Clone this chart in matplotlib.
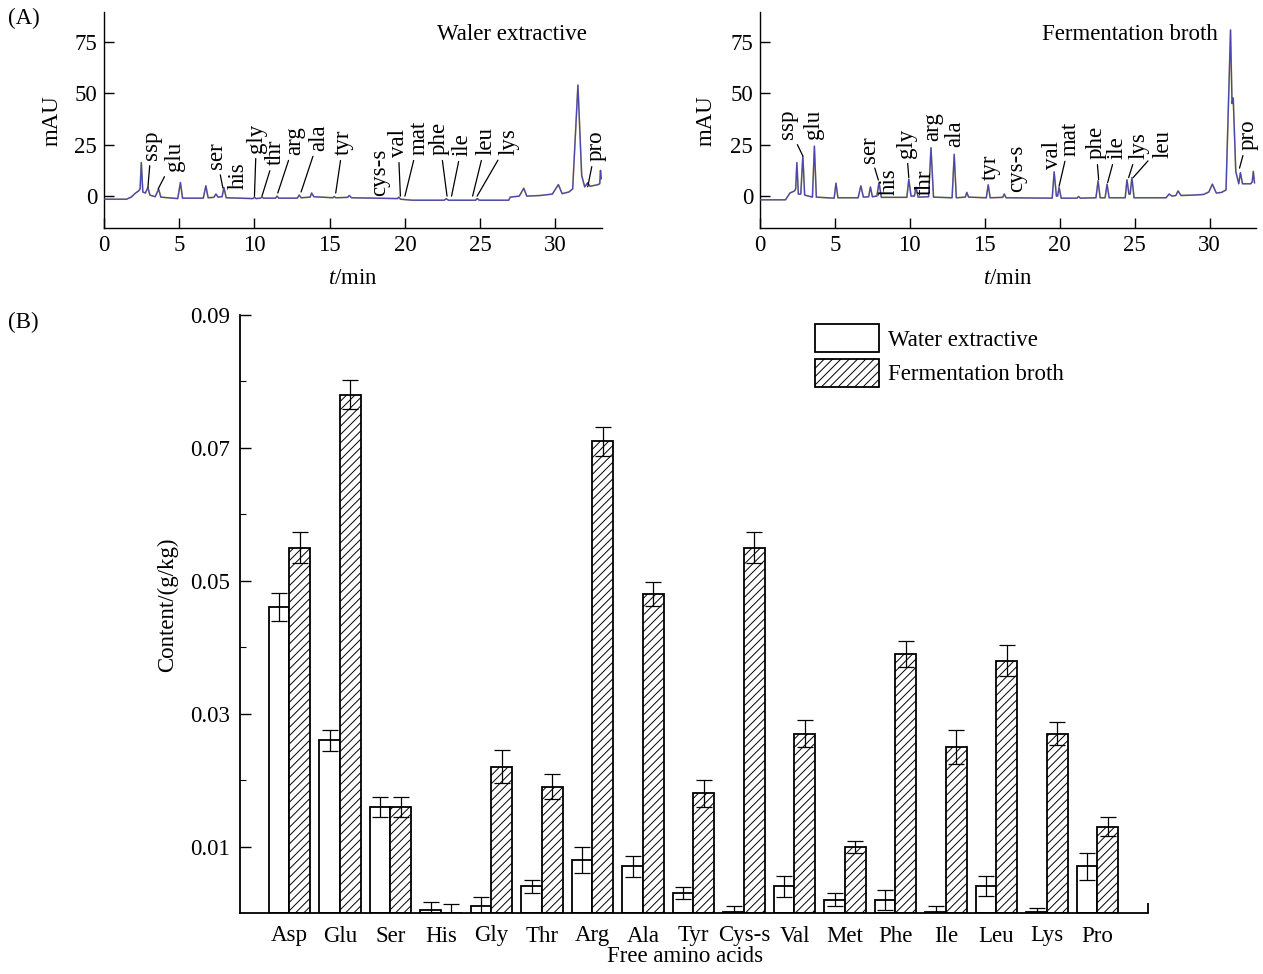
import matplotlib
matplotlib.use('Agg')
import matplotlib.pyplot as plt
import numpy as np

plt.rcParams['font.family'] = 'Liberation Serif'
plt.rcParams['mathtext.fontset'] = 'custom'
plt.rcParams['mathtext.rm'] = 'Liberation Serif'
plt.rcParams['mathtext.it'] = 'Liberation Serif:italic'
plt.rcParams['hatch.linewidth'] = 0.7

# (A) chromatograms, time (min) and signal (mAU)
water_t = [0.0, 1.5, 1.8, 2.1, 2.3, 2.4, 2.48, 2.58, 2.75, 2.92, 3.05, 3.4, 3.63, 3.78,
           4.9, 5.08, 5.22, 6.6, 6.77, 6.92, 7.3, 7.44, 7.58, 7.85, 7.97, 8.12,
           9.9, 10.0, 10.1, 10.4, 10.5, 10.6, 11.4, 11.5, 11.62, 12.85, 12.97, 13.1,
           13.7, 13.8, 13.95, 15.2, 15.3, 15.4, 16.2, 16.3, 16.45, 19.5, 19.6, 19.7,
           20.5, 22.6, 22.75, 22.9, 24.7, 24.8, 24.95, 26.9, 27.0, 27.6, 27.9, 28.1,
           29.0, 29.8, 30.2, 30.45, 30.9, 31.15, 31.5, 31.75, 31.95, 32.15, 32.3,
           32.8, 32.95, 33.0, 33.05]
water_mau = [-1.5, -1.5, -0.5, 1.5, 2.5, 3.5, 16.3, 2.0, 1.5, 4.2, 0.5, -0.3, 3.4, -0.5,
             -1.2, 6.6, -1.0, -1.0, 5.0, -0.8, -0.6, 1.0, -0.5, -0.3, 4.2, -0.8,
             -1.2, -0.5, -1.2, -1.0, -0.4, -1.0, -1.0, 0.0, -1.0, -1.0, 0.5, -0.8,
             -0.5, 1.5, -0.3, -0.8, -0.2, -0.8, -0.6, 0.3, -0.8, -1.2, -0.5, -1.5,
             -2.0, -2.0, -1.3, -2.0, -2.0, -1.2, -2.0, -2.0, -0.5, 0.0, 3.8, 0.0,
             0.3, 1.0, 5.6, 1.2, 2.0, 3.5, 54.0, 10.0, 4.5, 6.5, 4.8,
             5.5, 6.0, 12.5, 8.5]

broth_t = [0.0, 1.7, 2.0, 2.3, 2.38, 2.46, 2.56, 2.72, 2.86, 2.98, 3.5, 3.63, 3.76,
           4.95, 5.07, 5.2, 6.55, 6.73, 6.9, 7.25, 7.37, 7.5, 7.8, 7.94, 8.1,
           9.8, 9.93, 10.08, 10.3, 10.42, 10.55, 11.25, 11.41, 11.58, 12.82, 12.96, 13.1,
           13.7, 13.8, 13.92, 15.1, 15.23, 15.36, 16.2, 16.3, 16.42, 19.5, 19.63, 19.78,
           19.86, 19.96, 20.1, 21.15, 21.26, 21.38, 22.42, 22.56, 22.7, 23.03, 23.16, 23.3,
           24.37, 24.49, 24.62, 24.7, 24.82, 24.96, 27.1, 27.3, 27.5, 27.75, 27.9, 28.1,
           28.9, 29.6, 29.95, 30.19, 30.45, 30.8, 31.1, 31.4, 31.5, 31.58, 31.75, 31.95,
           32.06, 32.2, 32.75, 32.85, 32.92, 33.0]
broth_mau = [-1.8, -1.8, 1.5, 2.5, 3.5, 16.3, 1.0, 1.0, 19.5, 0.5, -0.5, 24.3, -0.5,
             -1.0, 6.3, -0.8, -0.8, 5.0, -0.5, -0.3, 4.4, -0.3, 0.0, 6.6, -0.6,
             -0.6, 8.2, 0.0, 0.0, 4.2, -0.5, -0.3, 23.5, -0.5, -0.8, 20.3, -0.8,
             -0.5, 1.8, -0.5, -0.8, 5.5, -0.8, -0.6, 1.0, -0.8, -1.0, 11.8, 0.0,
             0.0, 4.2, -1.0, -1.0, -0.2, -1.0, -0.8, 7.4, -0.8, -0.8, 5.8, -0.8,
             -0.8, 7.9, 1.0, 1.0, 9.0, -0.8, -0.8, 1.0, 0.0, 0.3, 2.5, 0.3,
             0.5, 0.8, 2.0, 5.8, 1.5, 1.8, 3.0, 80.8, 45.0, 47.7, 12.0, 6.0,
             11.4, 6.0, 6.0, 7.0, 12.0, 6.5]

# peak labels: (name, text x, text bottom y, leader target or None)
water_labels = [('ssp', 3.15, 17.5, (2.92, 4.3)), ('glu', 4.7, 12.0, (3.6, 3.5)),
                ('ser', 7.48, 13.0, (7.9, 4.0)), ('his', 8.9, 3.5, None),
                ('gly', 10.13, 21.0, (10.0, 0.0)), ('thr', 11.4, 15.0, (10.5, 0.0)),
                ('arg', 12.7, 20.0, (11.55, 1.5)), ('ala', 14.3, 22.0, (13.1, 2.0)),
                ('tyr', 15.9, 20.0, (15.4, 1.5)), ('cys-s', 18.35, 0.0, None),
                ('val', 19.55, 19.0, (19.7, 0.0)), ('mat', 20.95, 20.0, (20.0, 0.0)),
                ('phe', 22.3, 20.0, (22.8, 0.0)), ('ile', 23.8, 19.5, (23.1, 0.0)),
                ('leu', 25.4, 20.0, (24.5, 0.0)), ('lys', 26.9, 20.0, (24.8, 0.0)),
                ('pro', 32.7, 17.0, (32.15, 4.5))]
broth_labels = [('ssp', 1.85, 27.6, (2.86, 19.5)), ('glu', 3.57, 27.6, None),
                ('ser', 7.28, 16.3, (7.9, 7.8)), ('his', 8.65, 0.5, None),
                ('gly', 9.75, 18.6, (9.93, 9.0)), ('thr', 11.0, 0.5, None),
                ('arg', 11.55, 27.0, None), ('ala', 13.0, 24.0, None),
                ('tyr', 15.35, 8.0, None), ('cys-s', 17.1, 2.0, None),
                ('val', 19.5, 13.3, None), ('mat', 20.7, 19.6, (19.96, 4.8)),
                ('phe', 22.4, 18.0, (22.6, 8.0)), ('ile', 23.83, 18.0, (23.2, 6.6)),
                ('lys', 25.27, 18.0, (24.6, 9.0)), ('leu', 26.9, 18.6, (24.9, 9.0)),
                ('pro', 32.6, 22.4, (32.0, 13.6))]

# (B) free amino acids, g/kg
amino = ['Asp', 'Glu', 'Ser', 'His', 'Gly', 'Thr', 'Arg', 'Ala', 'Tyr', 'Cys-s',
         'Val', 'Met', 'Phe', 'Ile', 'Leu', 'Lys', 'Pro']
water = [0.046, 0.026, 0.016, 0.0005, 0.001, 0.004, 0.008, 0.007, 0.003, 0.0001,
         0.004, 0.002, 0.002, 0.0001, 0.004, 0.0001, 0.007]
water_err = [0.0021, 0.0016, 0.0015, 0.0011, 0.0014, 0.001, 0.002, 0.0016, 0.0009, 0.001,
             0.0016, 0.001, 0.0015, 0.001, 0.0015, 0.0007, 0.002]
broth = [0.055, 0.078, 0.016, 0.0, 0.022, 0.019, 0.071, 0.048, 0.018, 0.055,
         0.027, 0.010, 0.039, 0.025, 0.038, 0.027, 0.013]
broth_err = [0.0023, 0.0022, 0.0015, 0.0014, 0.0025, 0.0019, 0.0022, 0.0018, 0.002, 0.0023,
             0.002, 0.0009, 0.002, 0.0025, 0.0023, 0.0017, 0.0014]

W, H = 1263, 974
fig = plt.figure(figsize=(W / 100, H / 100), dpi=100)
fs = 16.5


def chromatogram(ax, t, mau, labels, title, tx):
    ax.plot(t, mau, color='#d8c860', lw=1.2, zorder=2)
    ax.plot(t, mau, color='#4848b0', lw=1.0, zorder=3)
    ax.set_xlim(0, 33.1)
    ax.set_ylim(-15.5, 89.5)
    ax.set_xticks([0, 5, 10, 15, 20, 25, 30])
    ax.set_yticks([0, 25, 50, 75])
    for s in ['top', 'right']:
        ax.spines[s].set_visible(False)
    for s in ['left', 'bottom']:
        ax.spines[s].set_linewidth(1.0)
    ax.tick_params(direction='in', length=7, width=1.0, labelsize=fs, pad=5)
    ax.text(tx, 0.894, title, transform=ax.transAxes, ha='right', va='center', fontsize=fs)
    for name, x, y, target in labels:
        if target is None:
            ax.text(x, y, name, rotation=90, ha='center', va='bottom', fontsize=fs)
        else:
            ax.annotate(name, xy=target, xytext=(x, y), rotation=90, ha='center',
                        va='bottom', fontsize=fs,
                        arrowprops=dict(arrowstyle='-', lw=0.9, color='black',
                                        shrinkA=2, shrinkB=0))


ax1 = fig.add_axes([104 / W, 1 - 228 / H, 498 / W, 216 / H])
chromatogram(ax1, water_t, water_mau, water_labels, 'Waler extractive', 0.97)
ax2 = fig.add_axes([760 / W, 1 - 228 / H, 496 / W, 216 / H])
chromatogram(ax2, broth_t, broth_mau, broth_labels, 'Fermentation broth', 0.923)

fig.text(52 / W, 1 - 121 / H, 'mAU', rotation=90, ha='center', va='center', fontsize=fs)
fig.text(706 / W, 1 - 121 / H, 'mAU', rotation=90, ha='center', va='center', fontsize=fs)
fig.text(353 / W, 1 - 279 / H, '$t$/min', ha='center', va='center', fontsize=fs)
fig.text(1008 / W, 1 - 279 / H, '$t$/min', ha='center', va='center', fontsize=fs)
fig.text(8 / W, 1 - 18 / H, '(A)', ha='left', va='center', fontsize=fs)
fig.text(8 / W, 1 - 322 / H, '(B)', ha='left', va='center', fontsize=fs)

# bar chart
ax3 = fig.add_axes([239.5 / W, 1 - 913 / H, 908.5 / W, 598 / H])
x = np.arange(len(amino))
bw = 0.41
ax3.bar(x - bw / 2, water, bw, color='white', edgecolor='black', lw=1.3,
        label='Water extractive', zorder=2)
ax3.bar(x + bw / 2, broth, bw, color='white', edgecolor='black', lw=1.3, hatch='////',
        label='Fermentation broth', zorder=2)
ax3.errorbar(x - bw / 2, water, yerr=water_err, fmt='none', ecolor='black',
             elinewidth=0.9, capsize=5.5, capthick=0.9, zorder=3)
ax3.errorbar(x + bw / 2, broth, yerr=broth_err, fmt='none', ecolor='black',
             elinewidth=0.9, capsize=5.5, capthick=0.9, zorder=3)
ax3.set_xlim(-0.99, 17)
ax3.set_ylim(0, 0.09)
ax3.set_xticks(x)
ax3.set_xticklabels(amino)
ax3.set_xticks([17], minor=True)
ax3.set_yticks([0.01, 0.03, 0.05, 0.07, 0.09])
ax3.set_yticklabels(['0.01', '0.03', '0.05', '0.07', '0.09'])
ax3.set_yticks([0.02, 0.04, 0.06, 0.08], minor=True)
for s in ['top', 'right']:
    ax3.spines[s].set_visible(False)
for s in ['left', 'bottom']:
    ax3.spines[s].set_linewidth(1.3)
ax3.tick_params(axis='x', which='major', length=0, labelsize=fs, pad=9)
ax3.tick_params(axis='x', which='minor', direction='in', length=7, width=1.3)
ax3.tick_params(axis='y', which='major', direction='in', length=8, width=1.0,
                labelsize=fs, pad=7)
ax3.tick_params(axis='y', which='minor', direction='in', length=4, width=0.8)
ax3.legend(loc='upper left', bbox_to_anchor=(0.633, 0.985), frameon=False, fontsize=fs,
           handlelength=2.8, handleheight=1.5, handletextpad=0.4, labelspacing=0.3,
           borderpad=0, borderaxespad=0)
fig.text(168 / W, 1 - 605 / H, 'Content/(g/kg)', rotation=90, ha='center', va='center',
         fontsize=fs)
fig.text(685 / W, 1 - 957 / H, 'Free amino acids', ha='center', va='center', fontsize=fs)

fig.savefig('out.png', dpi=100)
